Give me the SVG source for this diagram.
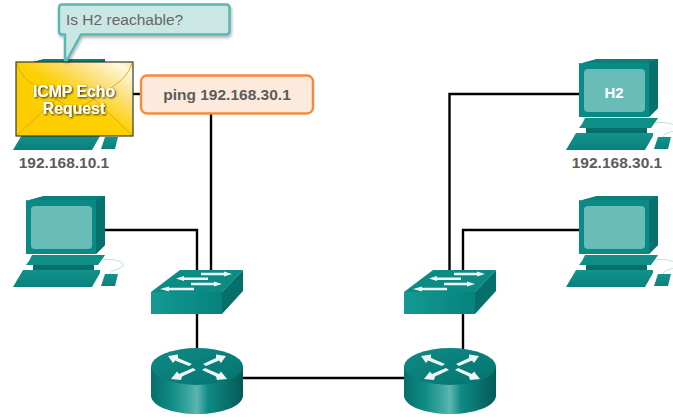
<svg xmlns="http://www.w3.org/2000/svg" xmlns:xlink="http://www.w3.org/1999/xlink" width="673" height="418" viewBox="0 0 673 418">
<style>
text{font-family:"Liberation Sans",Arial,sans-serif}
.lbl{font-size:15.5px;font-weight:bold;fill:#5c5c5c;text-anchor:middle}
.wire{fill:none;stroke:#000;stroke-width:2.400}
.arrow{fill:#eef5f4}
</style>
<defs>
<linearGradient id="rbody" x1="0" x2="1" y1="0" y2="0">
<stop offset="0" stop-color="#066f6b"/><stop offset=".22" stop-color="#0f8a85"/><stop offset=".42" stop-color="#3fa8a2"/><stop offset=".5" stop-color="#5db6b0"/><stop offset=".62" stop-color="#0f8a85"/><stop offset="1" stop-color="#045a57"/>
</linearGradient>
<linearGradient id="rtop" x1="0" x2="1" y1="0" y2="1">
<stop offset="0" stop-color="#0f8a85"/><stop offset="1" stop-color="#047470"/>
</linearGradient>
<linearGradient id="env" x1="0" x2="1" y1="1" y2="0">
<stop offset="0" stop-color="#ffcc00"/><stop offset=".5" stop-color="#fdd000"/><stop offset=".72" stop-color="#fbe07a"/><stop offset=".92" stop-color="#fff8dc"/><stop offset="1" stop-color="#f7e7a8"/>
</linearGradient>
<linearGradient id="kbd" x1="0" x2="0" y1="0" y2="1">
<stop offset="0" stop-color="#13928c"/><stop offset="1" stop-color="#0a817c"/>
</linearGradient>
<linearGradient id="swf" x1="0" x2="1" y1="0" y2="0">
<stop offset="0" stop-color="#139a93"/><stop offset="1" stop-color="#07827d"/>
</linearGradient>
<filter id="sh" x="-10%" y="-20%" width="120%" height="150%"><feDropShadow dx="1" dy="2" stdDeviation="1.500" flood-color="#000" flood-opacity=".3"/></filter>
<filter id="glow" x="-10%" y="-20%" width="120%" height="140%"><feDropShadow dx="1" dy="1" stdDeviation=".8" flood-color="#000" flood-opacity=".85"/></filter>
<g id="pc">
<path d="M102 260C114 258 125 262 123 266C120 270 111 269 110 274" fill="none" stroke="#bfe0dd" stroke-width="1"/>
<path d="M26 201L44 196H105V245L96 254H26Z" fill="#0a8a84"/>
<path d="M96 198L105 196V245L96 254Z" fill="#06716d"/>
<path d="M26 201L44 196H105L96 200H26Z" fill="#0b7f7a"/>
<rect x="31" y="206" width="61" height="43" rx="4" fill="#69bcb8"/>
<path d="M32 255H105L103 258L98 265H26L29 261Z" fill="#0f8d87"/>
<rect x="33" y="265" width="61" height="6" fill="#066f6b"/>
<path d="M13 287L23 270H100V273L92 287Z" fill="url(#kbd)"/>
<path d="M105 274H118L115 286H101Z" fill="url(#kbd)"/>
</g>
<g id="switch">
<path d="M151 292L180 270H243L222 292Z" fill="#0c8a84"/>
<rect x="151" y="292" width="71" height="22" fill="url(#swf)"/>
<path d="M222 292L243 270V291L222 314Z" fill="#056f6b"/>
<path class="arrow" d="M201 272.800H224V271.500L232 274L224 276.500V275.200H201ZM176 278.500L184 276V277.500H208V280H184V281ZM191 282.800H214V281.500L222 284L214 286.500V285.200H191ZM160 289L169 286.500V287.800H194V290.200H169V291.500Z"/>
</g>
<g id="router">
<path d="M151 366.500V395.500C151 406 172 414 197 414S243 406 243 395.500V366.500Z" fill="url(#rbody)"/>
<ellipse cx="197" cy="366.500" rx="46" ry="18.500" fill="url(#rtop)"/>
<path class="arrow" d="M168 356L178 354.500L178 358L192 364L189 366L175 360.500L173 363ZM226 356L216 354.500L216 358L203 364L206 366L219 360.500L221 363ZM171 379L181 380L182 376.500L196 370L193 368L179 374L177 371.500ZM227 379L217 380L216 376.500L202 370L205 368L219 374L221 371.500Z"/>
</g>
</defs>

<g id="connectors">
<path class="wire" d="M105 230H197V272"/>
<path class="wire" d="M133 94H141"/>
<path class="wire" d="M211 114V272"/>
<path class="wire" d="M197 314V350"/>
<path class="wire" d="M243 378H405"/>
<path class="wire" d="M579 94H449.500V272"/>
<path class="wire" d="M579 230H463V272"/>
<path class="wire" d="M463 314V350"/>
</g>

<g id="pc-h1">
<use xlink:href="#pc" href="#pc" y="-137"/>
<rect x="16" y="62" width="117" height="74" fill="url(#env)" stroke="#3a3a2a" stroke-width="1.200"/>
<path d="M17 63C22 85 50 92 75 112C100 92 126 85 132 63M17 135L57 98M132 135L93 98" fill="none" stroke="#cfa200" stroke-width=".8"/>
<text x="74" y="97" font-size="15.800" font-weight="bold" fill="#fff" text-anchor="middle" filter="url(#glow)">ICMP Echo</text>
<text x="74" y="114" font-size="15.800" font-weight="bold" fill="#fff" text-anchor="middle" filter="url(#glow)">Request</text>
<text class="lbl" x="64" y="168">192.168.10.1</text>
</g>

<g id="callout">
<path d="M62 4.500H226Q229.500 4.500 229.500 8V31Q229.500 34.500 226 34.500H81L67 60H65V34.500H62Q59 34.500 59 31V8Q59 4.500 62 4.500Z" fill="#cbe7e4" stroke="#5ab8b4" stroke-width="2.500" stroke-linejoin="round" filter="url(#sh)"/>
<text x="66" y="25" font-size="15.500" fill="#666">Is H2 reachable?</text>
</g>

<g id="ping-box">
<rect x="141" y="75.500" width="172" height="38" rx="6" fill="#fdeadd" stroke="#f58a3c" stroke-width="2.400"/>
<text class="lbl" x="227" y="100">ping 192.168.30.1</text>
</g>

<g id="pc-left"><use xlink:href="#pc" href="#pc"/></g>
<g id="pc-h2">
<use xlink:href="#pc" href="#pc" x="553" y="-137"/>
<text x="614" y="98" font-size="15" font-weight="bold" fill="#fff" text-anchor="middle">H2</text>
<text class="lbl" x="617" y="168">192.168.30.1</text>
</g>
<g id="pc-right"><use xlink:href="#pc" href="#pc" x="553"/></g>
<g id="switch-left"><use xlink:href="#switch" href="#switch"/></g>
<g id="switch-right"><use xlink:href="#switch" href="#switch" x="253"/></g>
<g id="router-left"><use xlink:href="#router" href="#router"/></g>
<g id="router-right"><use xlink:href="#router" href="#router" x="253"/></g>
</svg>
